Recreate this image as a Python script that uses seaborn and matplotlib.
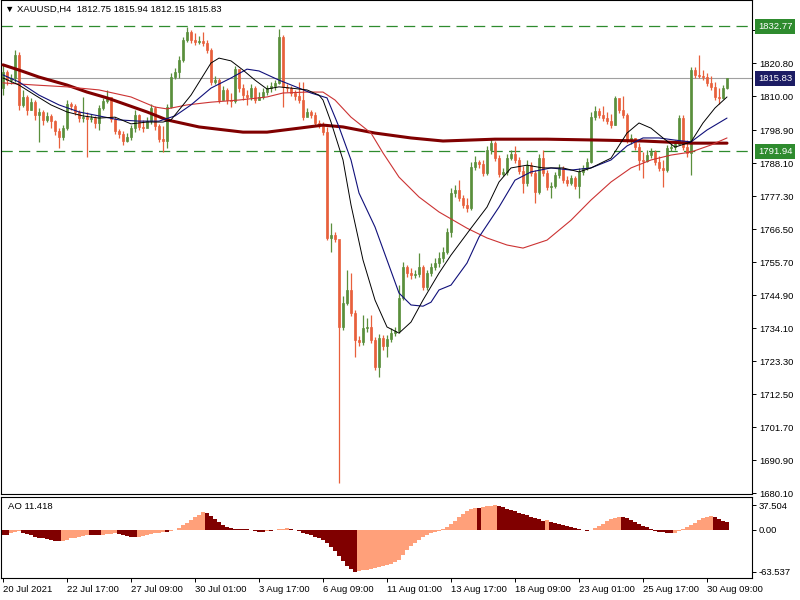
import numpy as np
import pandas as pd
import matplotlib
matplotlib.use('Agg')
import matplotlib.pyplot as plt
import matplotlib.transforms as mtransforms
import seaborn as sns

# XAUUSD H4 candles (opens follow the previous close)
first_open = 1812.6
closes = [
    1817.9, 1815.2, 1815.9, 1823.4, 1807.1, 1809.7, 1805.4, 1808.0, 1803.8, 1804.8,
    1802.2, 1803.5, 1801.8, 1798.6, 1796.6, 1799.5, 1807.4, 1806.7, 1804.8, 1802.8,
    1803.1, 1802.5, 1802.8, 1801.2, 1806.1, 1808.4, 1809.7, 1802.5, 1798.6, 1797.6,
    1795.3, 1796.6, 1799.5, 1803.8, 1799.9, 1799.5, 1801.8, 1806.1, 1800.2, 1795.9,
    1795.3, 1806.4, 1816.2, 1817.9, 1821.8, 1828.3, 1830.9, 1828.3, 1827.7, 1828.0,
    1827.3, 1825.0, 1814.6, 1815.2, 1808.7, 1812.0, 1808.7, 1808.4, 1818.8, 1812.6,
    1810.3, 1809.7, 1812.6, 1808.7, 1809.7, 1811.3, 1812.6, 1813.3, 1814.3, 1829.3,
    1813.0, 1812.6, 1811.0, 1810.0, 1808.7, 1803.1, 1804.8, 1803.8, 1801.2, 1800.9,
    1798.2, 1763.6, 1764.6, 1763.4, 1734.5, 1742.3, 1746.6, 1739.1, 1730.2, 1729.6,
    1734.1, 1734.5, 1730.2, 1721.4, 1730.9, 1728.3, 1730.6, 1732.5, 1733.2, 1744.0,
    1754.1, 1752.1, 1751.5, 1751.8, 1754.1, 1747.6, 1752.1, 1754.1, 1755.4, 1757.0,
    1759.0, 1765.5, 1778.3, 1779.3, 1776.7, 1774.4, 1773.4, 1786.8, 1788.4, 1787.8,
    1784.8, 1792.3, 1794.6, 1789.7, 1784.5, 1785.2, 1789.7, 1791.0, 1789.1, 1785.5,
    1781.6, 1787.4, 1784.8, 1778.6, 1789.7, 1784.8, 1780.3, 1780.6, 1784.2, 1786.5,
    1782.5, 1781.6, 1783.2, 1780.6, 1785.2, 1786.5, 1788.4, 1803.1, 1805.1, 1803.8,
    1802.8, 1801.8, 1800.5, 1809.4, 1805.4, 1803.8, 1795.6, 1796.3, 1793.3, 1789.1,
    1788.8, 1790.7, 1791.7, 1788.4, 1786.5, 1785.8, 1793.0, 1793.3, 1794.3, 1802.8,
    1793.3, 1791.4, 1818.5, 1816.9, 1816.7, 1816.2, 1814.3, 1813.0, 1809.7, 1809.4,
    1812.75, 1815.83,
]
highs = [
    1820.2, 1818.5, 1817.2, 1825.0, 1824.4, 1812.0, 1810.3, 1809.4, 1808.7, 1806.1,
    1805.4, 1804.8, 1804.1, 1802.2, 1799.5, 1800.5, 1808.7, 1808.0, 1807.4, 1805.4,
    1809.7, 1804.8, 1804.1, 1803.5, 1807.1, 1809.4, 1812.0, 1809.7, 1803.1, 1799.2,
    1798.6, 1797.9, 1800.5, 1805.4, 1804.1, 1802.2, 1803.1, 1807.4, 1806.7, 1800.9,
    1800.2, 1807.4, 1817.5, 1819.2, 1823.1, 1829.3, 1832.6, 1831.6, 1830.6, 1829.6,
    1830.9, 1828.3, 1825.7, 1816.5, 1815.9, 1813.3, 1812.6, 1811.0, 1819.8, 1818.5,
    1813.9, 1812.0, 1813.9, 1813.3, 1811.3, 1812.6, 1813.6, 1814.6, 1815.2, 1831.9,
    1830.0, 1813.9, 1813.3, 1812.0, 1814.6, 1814.6, 1806.1, 1805.4, 1804.8, 1802.2,
    1801.5, 1799.9, 1768.5, 1765.5, 1761.9, 1744.6, 1753.1, 1752.1, 1740.0, 1731.5,
    1738.4, 1737.4, 1738.4, 1731.2, 1732.2, 1731.9, 1731.9, 1734.1, 1734.5, 1748.2,
    1755.7, 1754.8, 1753.8, 1753.1, 1758.7, 1754.8, 1753.1, 1755.4, 1757.0, 1759.0,
    1760.6, 1766.8, 1779.9, 1780.9, 1782.5, 1777.6, 1776.7, 1788.4, 1790.4, 1789.1,
    1789.1, 1793.7, 1796.3, 1795.3, 1790.7, 1786.5, 1791.0, 1792.3, 1793.7, 1790.1,
    1787.1, 1789.1, 1788.4, 1785.8, 1791.0, 1792.3, 1785.8, 1781.9, 1785.2, 1787.8,
    1787.1, 1783.8, 1784.2, 1783.8, 1786.5, 1787.4, 1789.7, 1804.8, 1806.7, 1806.1,
    1806.7, 1804.8, 1804.1, 1810.0, 1808.7, 1810.0, 1804.4, 1797.6, 1796.3, 1794.6,
    1791.7, 1792.3, 1793.0, 1792.3, 1790.4, 1789.1, 1794.0, 1794.3, 1795.6, 1803.8,
    1803.8, 1795.6, 1819.5, 1819.5, 1823.4, 1818.5, 1817.5, 1816.5, 1814.6, 1812.6,
    1813.6, 1815.94,
]
lows = [
    1810.3, 1813.6, 1813.9, 1814.6, 1805.4, 1806.4, 1803.8, 1805.4, 1802.2, 1795.0,
    1800.5, 1801.5, 1799.5, 1797.3, 1793.0, 1795.6, 1798.9, 1805.4, 1803.8, 1801.5,
    1801.5, 1790.1, 1801.5, 1799.5, 1798.9, 1805.4, 1807.7, 1801.5, 1797.6, 1796.3,
    1794.0, 1795.0, 1795.6, 1798.2, 1798.9, 1798.2, 1800.2, 1800.9, 1798.9, 1795.0,
    1791.7, 1793.0, 1806.1, 1815.6, 1815.9, 1821.1, 1827.7, 1827.3, 1826.7, 1827.0,
    1826.4, 1824.1, 1813.6, 1813.9, 1807.7, 1808.7, 1807.4, 1806.4, 1807.7, 1811.3,
    1808.7, 1807.1, 1808.7, 1807.7, 1808.7, 1809.0, 1810.3, 1811.3, 1812.0, 1813.9,
    1806.4, 1811.3, 1810.0, 1808.7, 1807.7, 1802.2, 1803.5, 1802.8, 1800.2, 1799.5,
    1797.3, 1762.9, 1759.0, 1762.3, 1683.5, 1733.5, 1741.7, 1738.1, 1724.7, 1728.3,
    1728.6, 1732.8, 1729.2, 1720.4, 1718.1, 1727.0, 1724.7, 1729.6, 1731.5, 1732.5,
    1743.3, 1750.8, 1750.2, 1750.5, 1750.8, 1746.6, 1746.6, 1751.1, 1753.1, 1754.1,
    1755.7, 1758.3, 1763.9, 1777.0, 1775.7, 1773.4, 1772.1, 1772.7, 1785.8, 1786.5,
    1783.8, 1784.2, 1791.0, 1788.8, 1783.5, 1783.8, 1784.2, 1789.1, 1788.1, 1784.5,
    1778.3, 1780.6, 1783.8, 1775.0, 1778.0, 1783.8, 1779.3, 1776.7, 1779.9, 1783.2,
    1781.6, 1780.6, 1780.9, 1779.6, 1776.7, 1784.2, 1785.8, 1788.1, 1802.2, 1802.8,
    1801.8, 1800.9, 1799.5, 1800.5, 1804.4, 1802.8, 1794.6, 1794.3, 1792.3, 1785.8,
    1783.2, 1788.4, 1789.7, 1787.4, 1785.5, 1780.3, 1785.2, 1792.0, 1792.3, 1794.0,
    1792.3, 1790.1, 1784.2, 1815.9, 1815.9, 1815.2, 1813.3, 1812.0, 1808.7, 1807.4,
    1809.0, 1812.15,
]

# Awesome Oscillator, one value per candle
ao_values = [
    -7.0, -8.0, -5.0, -3.0, -2.0, -4.0, -6.0, -8.0, -10.0, -12.0,
    -13.0, -14.0, -15.5, -16.5, -17.5, -16.5, -15.0, -13.0, -11.5, -10.0,
    -8.5, -7.0, -7.5, -8.0, -8.2, -7.0, -6.0, -5.5, -5.0, -6.0,
    -8.0, -9.5, -10.5, -11.0, -10.0, -8.5, -7.5, -6.0, -5.0, -4.0,
    -3.0, -3.5, -2.0, 0.5, 3.0, 7.0, 11.0, 15.0, 19.0, 23.0,
    26.5, 25.0, 21.0, 16.0, 12.0, 8.0, 5.0, 3.0, 1.8, 1.2,
    0.8, 0.6, 0.3, -1.5, -2.5, -3.0, -1.0, -1.8, -0.5, 1.0,
    2.0, 2.5, 1.5, 0.0, -2.0, -4.0, -6.0, -8.0, -10.0, -12.0,
    -15.0, -20.0, -26.0, -32.0, -40.0, -47.0, -54.0, -59.0, -63.537, -62.0,
    -61.0, -60.0, -59.0, -57.5, -56.0, -54.5, -53.0, -51.0, -49.0, -46.0,
    -38.0, -31.0, -25.0, -20.0, -15.0, -11.0, -8.0, -5.0, -3.0, -1.0,
    1.0, 4.0, 9.0, 14.0, 19.0, 24.0, 29.0, 32.0, 33.5, 33.0,
    34.0, 35.5, 36.5, 37.504, 36.0, 34.0, 32.0, 30.0, 28.0, 26.0,
    24.0, 22.0, 20.0, 18.0, 16.0, 14.0, 14.5, 12.0, 10.0, 8.5,
    7.0, 5.5, 4.0, 2.5, 1.0, -0.5, -2.0, -0.5, 2.5, 6.0,
    9.5, 13.0, 16.0, 18.5, 20.0, 19.5, 17.5, 15.0, 12.0, 9.0,
    6.5, 4.0, 1.5, -1.0, -2.5, -3.8, -4.6, -5.0, -4.2, -2.0,
    1.0, 4.0, 7.5, 11.0, 14.5, 17.5, 19.5, 21.0, 19.0, 16.5,
    14.0, 11.418,
]

# moving averages, read at sample bars
ma_slow_idx = [0, 4, 9, 16, 21, 26, 31, 36, 41, 49, 60, 66, 74, 80, 85, 93, 102, 110,
               123, 136, 149, 160, 172, 181]
ma_slow_val = [1820.2, 1818.5, 1816.2, 1813.6, 1811.3, 1809.4, 1807.1, 1804.8, 1802.2,
               1799.9, 1798.2, 1798.2, 1799.5, 1800.5, 1799.9, 1797.9, 1796.3, 1795.3,
               1795.9, 1795.9, 1795.6, 1795.3, 1794.6, 1794.6]
ma_mid_idx = [0, 8, 16, 24, 32, 38, 41, 46, 52, 59, 66, 70, 76, 80, 83, 87, 92, 95, 99,
              104, 109, 116, 121, 126, 130, 136, 142, 147, 152, 157, 162, 167, 172, 177, 181]
ma_mid_val = [1814.3, 1813.6, 1813.0, 1812.0, 1809.7, 1806.4, 1805.8, 1807.1, 1808.0,
              1808.7, 1809.7, 1811.0, 1811.3, 1811.3, 1808.7, 1803.1, 1797.9, 1791.4,
              1783.5, 1777.0, 1772.1, 1766.8, 1763.6, 1761.3, 1760.3, 1762.9, 1769.4,
              1776.0, 1781.9, 1786.5, 1789.1, 1790.7, 1791.7, 1794.0, 1796.3]
ma_fast_idx = [0, 4, 8, 12, 16, 20, 24, 28, 32, 36, 40, 42, 47, 52, 54, 57, 60, 63, 66, 69,
               72, 76, 79, 80, 82, 85, 87, 90, 93, 96, 99, 102, 105, 109, 112, 117, 121, 124,
               127, 131, 135, 140, 144, 147, 152, 156, 159, 162, 165, 168, 172, 175, 178, 181]
ma_fast_val = [1815.9, 1813.6, 1810.3, 1807.1, 1804.8, 1803.5, 1802.8, 1803.1, 1800.9,
               1801.5, 1801.5, 1802.2, 1810.3, 1820.8, 1822.4, 1821.5, 1818.5, 1815.2,
               1812.3, 1813.0, 1812.6, 1812.0, 1810.3, 1808.7, 1801.5, 1789.1, 1774.4,
               1756.4, 1743.3, 1734.5, 1732.5, 1736.1, 1743.3, 1752.1, 1758.0, 1766.8,
               1773.7, 1781.9, 1786.5, 1787.4, 1786.5, 1786.5, 1785.2, 1786.5, 1789.7,
               1797.9, 1801.2, 1799.5, 1796.3, 1793.3, 1795.0, 1801.2, 1806.1, 1809.7]
ma_navy_idx = [0, 4, 9, 14, 19, 24, 29, 34, 39, 43, 47, 52, 57, 61, 64, 69, 74, 77, 81, 84,
               87, 89, 93, 96, 99, 102, 105, 107, 109, 112, 116, 119, 124, 128, 132, 137,
               142, 147, 152, 156, 160, 164, 168, 172, 176, 181]
ma_navy_val = [1816.9, 1814.6, 1810.3, 1807.1, 1804.8, 1803.5, 1802.2, 1801.8, 1801.8,
               1803.5, 1807.1, 1812.6, 1815.9, 1818.8, 1818.2, 1815.2, 1812.6, 1811.0,
               1809.4, 1799.9, 1789.1, 1778.3, 1767.2, 1756.4, 1745.6, 1741.7, 1741.3,
               1742.6, 1746.6, 1748.2, 1755.4, 1763.9, 1773.7, 1782.5, 1785.2, 1786.5,
               1785.8, 1786.5, 1789.1, 1793.7, 1796.3, 1796.3, 1795.6, 1795.0, 1798.9,
               1802.8]

level_high = 1832.77
level_low = 1791.94
last_price = 1815.83

price_ticks = [1680.10, 1690.90, 1701.70, 1712.50, 1723.30, 1734.10, 1744.90, 1755.70,
               1766.50, 1777.30, 1788.10, 1798.90, 1810.00, 1820.80, 1831.60]
time_ticks = [0, 16, 32, 48, 64, 80, 96, 112, 128, 144, 160, 176]
time_labels = ['20 Jul 2021', '22 Jul 17:00', '27 Jul 09:00', '30 Jul 01:00', '3 Aug 17:00',
               '6 Aug 09:00', '11 Aug 01:00', '13 Aug 17:00', '18 Aug 09:00', '23 Aug 01:00',
               '25 Aug 17:00', '30 Aug 09:00']

BULL = '#5a8f3c'
BEAR = '#e8603c'
LEVEL = '#2e8b2e'
FS = 6.8

sns.set_theme(style='white')
plt.rcParams['font.family'] = ['Liberation Sans', 'DejaVu Sans']
plt.rcParams['axes.edgecolor'] = 'black'
plt.rcParams['axes.linewidth'] = 0.8

df = pd.DataFrame({'close': closes, 'high': highs, 'low': lows})
df['open'] = [first_open] + closes[:-1]
x = np.arange(len(df))
up = df['close'] >= df['open']
cols = np.where(up, BULL, BEAR)

fig = plt.figure(figsize=(8, 6), dpi=100)
ax = fig.add_axes([1 / 800, 106 / 600, 751 / 800, 494 / 600])
ax_ao = fig.add_axes([1 / 800, 22 / 600, 751 / 800, 81 / 600])

# candles
ax.vlines(x, df['low'], df['high'], colors=cols, linewidth=0.9, zorder=2)
ax.bar(x, df['close'] - df['open'], bottom=df['open'], width=0.72, color=cols,
       edgecolor=cols, linewidth=0.5, zorder=3)

# moving averages
sns.lineplot(x=ma_slow_idx, y=ma_slow_val, ax=ax, color='#800000', linewidth=2.2, zorder=4)
sns.lineplot(x=ma_mid_idx, y=ma_mid_val, ax=ax, color='#cc3333', linewidth=0.8, zorder=4)
sns.lineplot(x=ma_navy_idx, y=ma_navy_val, ax=ax, color='#10107a', linewidth=0.8, zorder=4)
sns.lineplot(x=ma_fast_idx, y=ma_fast_val, ax=ax, color='black', linewidth=0.7, zorder=4)

# levels
ax.axhline(level_high, color=LEVEL, linewidth=0.9, linestyle=(0, (9, 5)), zorder=1)
ax.axhline(level_low, color=LEVEL, linewidth=0.9, linestyle=(0, (9, 5)), zorder=1)
ax.axhline(last_price, color='#a0a0a0', linewidth=0.8, zorder=1)

ax.set_xlim(-0.5, 187.25)
ax.set_ylim(1679.9, 1841.4)
ax.set_xlabel('')
ax.set_ylabel('')
ax.yaxis.tick_right()
ax.set_yticks(price_ticks)
ax.set_yticklabels(['%.2f' % v for v in price_ticks])
ax.tick_params(axis='y', right=True, left=False, length=3, width=0.7, pad=2,
               labelsize=FS, colors='black')
ax.tick_params(axis='x', bottom=False, labelbottom=False)

# price tags on the right scale
tag_tr = mtransforms.offset_copy(mtransforms.blended_transform_factory(ax.transAxes, ax.transData),
                                 fig=fig, x=6, y=0, units='dots')
for val, fc in [(level_high, LEVEL), (last_price, '#1c1c64'), (level_low, LEVEL)]:
    ax.text(1.0, val, '%.2f' % val, transform=tag_tr, ha='left', va='center', fontsize=FS,
            color='white', zorder=10, clip_on=False,
            bbox=dict(boxstyle='square,pad=0.3', fc=fc, ec='none'))

fig.text(5 / 800, 1 - 9 / 600, '\u25bc XAUUSD,H4  1812.75 1815.94 1812.15 1815.83',
         fontsize=FS, va='center', ha='left', color='black')

# Awesome Oscillator
ao = np.array(ao_values)
prev = np.concatenate([[ao[0] + 1], ao[:-1]])
ao_cols = np.where(ao > prev, '#ffa07a', '#800000')
ax_ao.bar(x, ao, width=1.02, color=ao_cols, linewidth=0)
ax_ao.set_xlim(-0.5, 187.25)
ax_ao.set_ylim(-72.6, 49.6)
ax_ao.yaxis.tick_right()
ax_ao.set_yticks([37.504, 0.0, -63.537])
ax_ao.set_yticklabels(['37.504', '0.00', '-63.537'])
ax_ao.tick_params(axis='y', right=True, left=False, length=3, width=0.7, pad=2,
                  labelsize=FS, colors='black')
ax_ao.set_xticks(time_ticks)
ax_ao.set_xticklabels(time_labels, ha='left')
ax_ao.tick_params(axis='x', bottom=True, length=3, width=0.7, pad=2, labelsize=FS,
                  colors='black')
ax_ao.text(7 / 751, 0.877, 'AO 11.418', transform=ax_ao.transAxes, fontsize=FS,
           va='center', ha='left', color='black')

fig.savefig('out.png', dpi=100, facecolor='white')
